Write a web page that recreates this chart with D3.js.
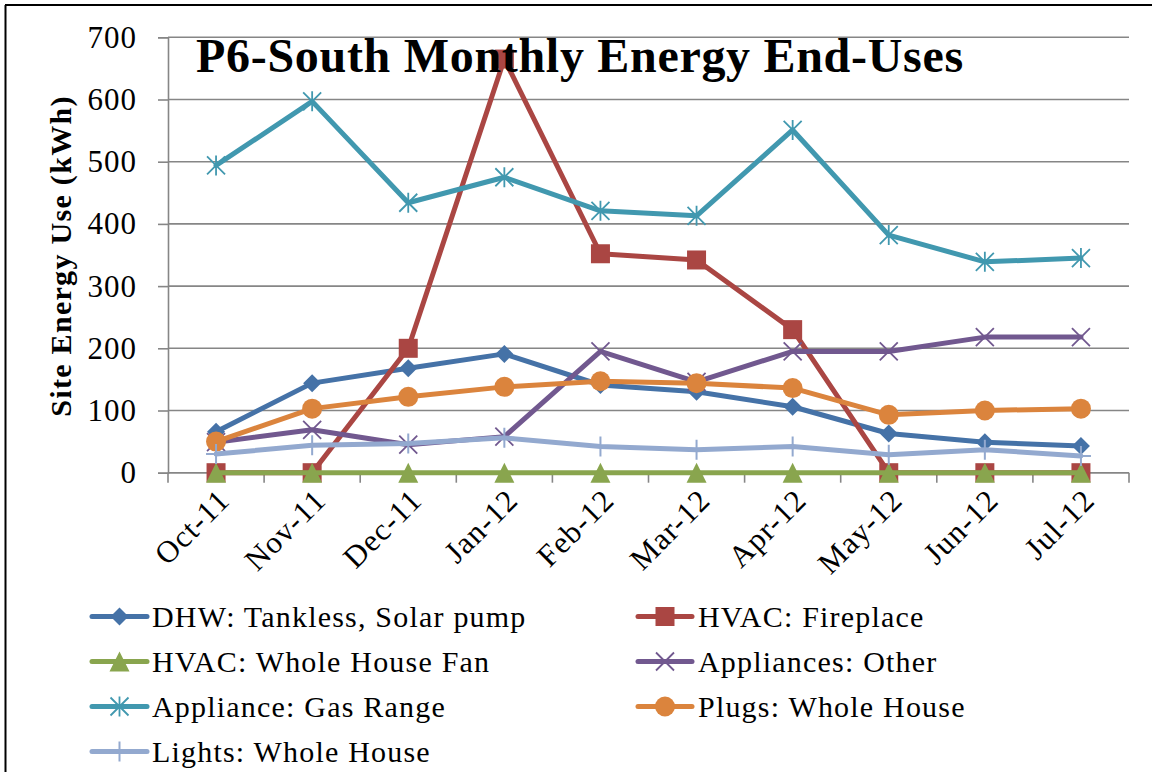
<!DOCTYPE html>
<html>
<head>
<meta charset="utf-8">
<script src="https://cdn.jsdelivr.net/npm/d3@7"></script>
<style>
  html, body { margin: 0; padding: 0; background: #fff; }
  svg { display: block; }
  text { font-family: "Liberation Serif", "DejaVu Serif", serif; fill: #000; }
</style>
</head>
<body>
<svg id="chart" width="1152" height="772"></svg>
<script>
// Monthly site energy end-uses, kWh
const months = ["Oct-11", "Nov-11", "Dec-11", "Jan-12", "Feb-12", "Mar-12", "Apr-12", "May-12", "Jun-12", "Jul-12"];
const dhw            = [66, 144, 168, 191, 141, 130, 106, 63, 49, 43];
const fireplace      = [0, 0, 200, 665, 352, 342, 230, 0, 0, 0];
const wholeHouseFan  = [0, 0, 0, 0, 0, 0, 0, 0, 0, 0];
const appliancesOther= [49, 69, 45, 58, 195, 146, 195, 195, 218, 218];
const gasRange       = [494, 597, 434, 475, 421, 413, 551, 382, 339, 345];
const plugs          = [50, 103, 122, 138, 147, 144, 136, 93, 100, 103];
const lights         = [30, 44, 47, 56, 42, 37, 42, 29, 37, 27];
const yTicks = [0, 100, 200, 300, 400, 500, 600, 700];

const seriesNames = ["DHW: Tankless, Solar pump", "HVAC: Fireplace", "HVAC: Whole House Fan",
  "Appliances: Other", "Appliance: Gas Range", "Plugs: Whole House", "Lights: Whole House"];
const seriesValues = [dhw, fireplace, wholeHouseFan, appliancesOther, gasRange, plugs, lights];
const seriesColors = ["#4572A7", "#AA4643", "#89A54E", "#71588F", "#4198AF", "#DB843D", "#93A9CF"];
const seriesMarkers = ["diamond", "square", "triangle", "x", "star", "circle", "plus"];

const series = seriesNames.map((name, i) => ({
  name, values: seriesValues[i], color: seriesColors[i], marker: seriesMarkers[i]
}));

const svg = d3.select("#chart");

// Outer frame (top and left edges)
svg.append("line").attr("x1", 5).attr("y1", 5).attr("x2", 1152).attr("y2", 5)
  .attr("stroke", "#000").attr("stroke-width", 2);
svg.append("line").attr("x1", 5.5).attr("y1", 5).attr("x2", 5.5).attr("y2", 772)
  .attr("stroke", "#000").attr("stroke-width", 2);

const plot = { left: 168, right: 1129, top: 37.3, bottom: 472.7 };

const x = d3.scaleBand().domain(months).range([plot.left, plot.right]).padding(0);
const cx = m => x(m) + x.bandwidth() / 2;
const y = d3.scaleLinear().domain([0, 700]).range([plot.bottom, plot.top]);

const gridColor = "#868686";

// Horizontal gridlines
svg.append("g").selectAll("line").data(yTicks).join("line")
  .attr("x1", plot.left).attr("x2", plot.right)
  .attr("y1", d => y(d)).attr("y2", d => y(d))
  .attr("stroke", gridColor).attr("stroke-width", 1.6);

// Y axis
const yAxis = svg.append("g").attr("transform", `translate(${plot.left},0)`)
  .call(d3.axisLeft(y).tickValues(yTicks).tickSize(10).tickPadding(21).tickFormat(d3.format("d")));
yAxis.select(".domain").attr("stroke", gridColor).attr("stroke-width", 1.6);
yAxis.selectAll(".tick line").attr("stroke", gridColor).attr("stroke-width", 1.6);
yAxis.selectAll(".tick text")
  .style("font-family", "'Liberation Serif', serif").style("font-size", "31px")
  .attr("fill", "#000").attr("letter-spacing", "1px");

// X axis line and ticks at category boundaries
const xBounds = months.map(m => x(m)).concat([plot.right]);
svg.append("line").attr("x1", plot.left).attr("x2", plot.right)
  .attr("y1", y(0)).attr("y2", y(0)).attr("stroke", gridColor).attr("stroke-width", 1.6);
svg.append("g").selectAll("line").data(xBounds).join("line")
  .attr("x1", d => d).attr("x2", d => d)
  .attr("y1", y(0)).attr("y2", y(0) + 10)
  .attr("stroke", gridColor).attr("stroke-width", 1.6);

// X tick labels, rotated
svg.append("g").selectAll("text").data(months).join("text")
  .attr("transform", d => `translate(${cx(d) + 8},${y(0) + 22}) rotate(-45)`)
  .attr("text-anchor", "end")
  .attr("dominant-baseline", "central")
  .style("font-size", "31px").attr("letter-spacing", "1px")
  .text(d => d);

// Y axis title
svg.append("text")
  .attr("transform", `translate(71,256) rotate(-90)`)
  .attr("text-anchor", "middle")
  .style("font-size", "30px").style("font-weight", "bold").attr("letter-spacing", "1.3px")
  .text("Site Energy Use (kWh)");

// Marker shapes
function drawMarker(g, type, color) {
  switch (type) {
    case "diamond":
      g.append("path").attr("d", "M0,-9L9,0L0,9L-9,0Z").attr("fill", color);
      break;
    case "square":
      g.append("rect").attr("x", -9.5).attr("y", -9.5).attr("width", 19).attr("height", 19).attr("fill", color);
      break;
    case "triangle":
      g.append("path").attr("d", "M0,-10L10,10L-10,10Z").attr("fill", color);
      break;
    case "circle":
      g.append("circle").attr("r", 10).attr("fill", color);
      break;
    case "x":
      g.append("path").attr("d", "M-9,-9L9,9M-9,9L9,-9").attr("stroke", color).attr("stroke-width", 1.8).attr("fill", "none");
      break;
    case "star":
      g.append("path").attr("d", "M-9,-9L9,9M-9,9L9,-9M0,-10L0,10").attr("stroke", color).attr("stroke-width", 1.8).attr("fill", "none");
      break;
    case "plus":
      g.append("path").attr("d", "M0,-10L0,10M-10,0L10,0").attr("stroke", color).attr("stroke-width", 2).attr("fill", "none");
      break;
  }
}

const line = d3.line().x((d, i) => cx(months[i])).y(d => y(d));

// Series: line then markers, in legend order
series.forEach(s => {
  const g = svg.append("g");
  g.append("path").attr("d", line(s.values))
    .attr("fill", "none").attr("stroke", s.color).attr("stroke-width", 5)
    .attr("stroke-linejoin", "round").attr("stroke-linecap", "round");
  s.values.forEach((v, i) => {
    const mg = g.append("g").attr("transform", `translate(${cx(months[i])},${y(v)})`);
    drawMarker(mg, s.marker, s.color);
  });
});

// Chart title (drawn above the plot)
svg.append("text")
  .attr("x", 196).attr("y", 72)
  .style("font-size", "48px").style("font-weight", "bold").attr("letter-spacing", "0.7px")
  .text("P6-South Monthly Energy End-Uses");

// Legend: two columns, filled row by row
const legendCols = [{ x1: 92, x2: 147, tx: 152 }, { x1: 638, x2: 692, tx: 698 }];
const legendRowY = [616.5, 661.5, 706.5, 751.5];
series.forEach((s, i) => {
  const col = legendCols[i % 2];
  const ry = legendRowY[Math.floor(i / 2)];
  const g = svg.append("g");
  g.append("line").attr("x1", col.x1).attr("x2", col.x2).attr("y1", ry).attr("y2", ry)
    .attr("stroke", s.color).attr("stroke-width", 5).attr("stroke-linecap", "round");
  const mg = g.append("g").attr("transform", `translate(${(col.x1 + col.x2) / 2},${ry})`);
  drawMarker(mg, s.marker, s.color);
  g.append("text").attr("x", col.tx).attr("y", ry)
    .attr("dominant-baseline", "central")
    .style("font-size", "30px").attr("letter-spacing", "1.2px")
    .text(s.name);
});
</script>
</body>
</html>
